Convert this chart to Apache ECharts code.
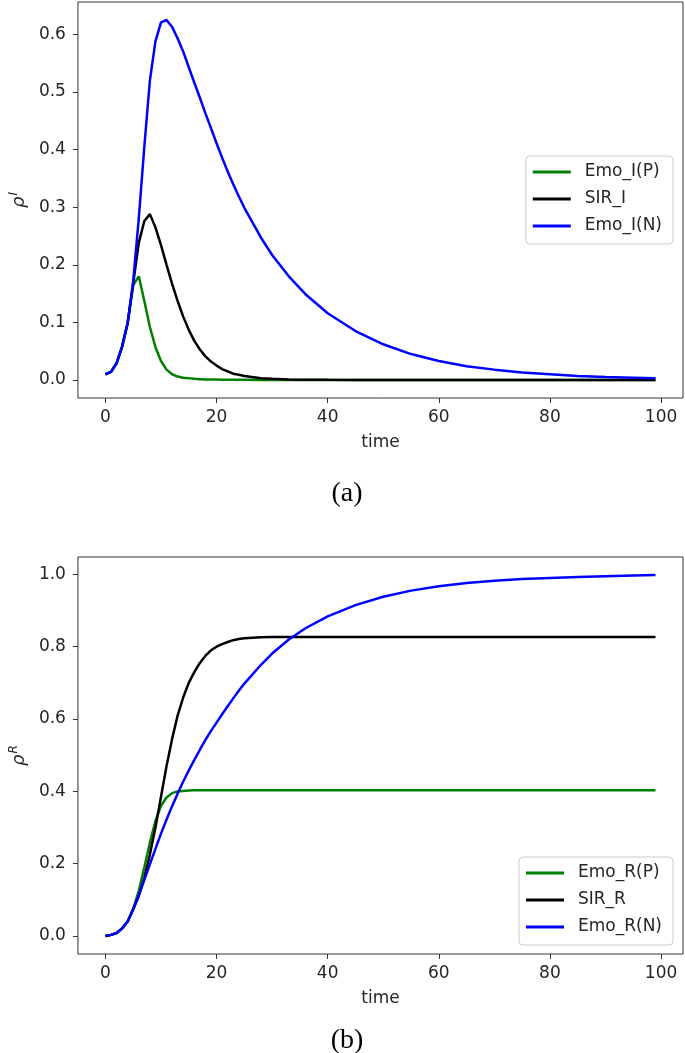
<!DOCTYPE html>
<html>
<head>
<meta charset="utf-8">
<script src="https://cdn.jsdelivr.net/npm/echarts@6.0.0/dist/echarts.min.js"></script>
<style>
html, body { margin: 0; padding: 0; background: #fff; }
#main { width: 685px; height: 1053px; }
</style>
</head>
<body>
<div id="main"></div>
<script>
// time steps (dense where the curves bend)
var times = [0, 1, 2, 3, 4, 5, 6, 7, 8, 9, 10, 11, 12, 13, 14, 15, 16, 17, 18, 19, 20, 21, 22, 23, 24, 25,
    28, 30, 33, 36, 40, 45, 50, 55, 60, 65, 70, 75, 80, 85, 90, 95, 99];

// (a) infected density
var emoIP = [0.010, 0.014, 0.029, 0.058, 0.099, 0.165, 0.180, 0.137, 0.092, 0.057, 0.033, 0.018, 0.010, 0.006, 0.004, 0.003, 0.002, 0.0015, 0.001, 0.001, 0.0008, 0.0006, 0.0005, 0.0004, 0.0003, 0.0003,
    0.0002, 0.0001, 0, 0, 0, 0, 0, 0, 0, 0, 0, 0, 0, 0, 0, 0, 0];
var sirI = [0.010, 0.014, 0.029, 0.058, 0.099, 0.168, 0.238, 0.276, 0.288, 0.265, 0.234, 0.200, 0.167, 0.137, 0.110, 0.087, 0.068, 0.053, 0.041, 0.032, 0.025, 0.019, 0.015, 0.011, 0.009, 0.007,
    0.003, 0.002, 0.001, 0.0006, 0.0003, 0.0001, 0, 0, 0, 0, 0, 0, 0, 0, 0, 0, 0];
var emoIN = [0.010, 0.014, 0.029, 0.058, 0.099, 0.172, 0.280, 0.405, 0.520, 0.588, 0.621, 0.625, 0.613, 0.593, 0.570, 0.543, 0.516, 0.490, 0.463, 0.437, 0.411, 0.386, 0.362, 0.340, 0.319, 0.299,
    0.247, 0.217, 0.180, 0.149, 0.116, 0.085, 0.062, 0.045, 0.033, 0.024, 0.018, 0.013, 0.010, 0.007, 0.005, 0.004, 0.003];

// (b) recovered density
var emoRP = [0, 0.003, 0.008, 0.021, 0.040, 0.075, 0.125, 0.190, 0.258, 0.318, 0.360, 0.383, 0.395, 0.400, 0.401, 0.402, 0.403, 0.403, 0.403, 0.403, 0.403, 0.403, 0.403, 0.403, 0.403, 0.403,
    0.403, 0.403, 0.403, 0.403, 0.403, 0.403, 0.403, 0.403, 0.403, 0.403, 0.403, 0.403, 0.403, 0.403, 0.403, 0.403, 0.403];
var sirR = [0, 0.003, 0.008, 0.021, 0.040, 0.074, 0.110, 0.160, 0.225, 0.300, 0.385, 0.470, 0.545, 0.610, 0.660, 0.700, 0.730, 0.755, 0.775, 0.790, 0.800, 0.807, 0.813, 0.818, 0.821, 0.823,
    0.826, 0.827, 0.827, 0.827, 0.827, 0.827, 0.827, 0.827, 0.827, 0.827, 0.827, 0.827, 0.827, 0.827, 0.827, 0.827, 0.827];
var emoRN = [0, 0.003, 0.008, 0.021, 0.040, 0.074, 0.113, 0.155, 0.198, 0.241, 0.283, 0.322, 0.359, 0.394, 0.427, 0.458, 0.487, 0.515, 0.542, 0.567, 0.590, 0.613, 0.635, 0.657, 0.678, 0.698,
    0.750, 0.781, 0.820, 0.851, 0.884, 0.915, 0.938, 0.955, 0.967, 0.976, 0.982, 0.987, 0.990, 0.993, 0.995, 0.997, 0.998];

var xTicks = [0, 20, 40, 60, 80, 100];
var yTicksA = [0, 0.1, 0.2, 0.3, 0.4, 0.5, 0.6];
var yTicksB = [0, 0.2, 0.4, 0.6, 0.8, 1.0];

var namesA = ['Emo_I(P)', 'SIR_I', 'Emo_I(N)'];
var namesB = ['Emo_R(P)', 'SIR_R', 'Emo_R(N)'];
var colors = ['#008000', '#000000', '#0000ff'];

var font = 'DejaVu Sans';
var textColor = '#262626';

function pairs(xs, ys) {
    var out = [];
    for (var i = 0; i < xs.length; i++) {
        out.push([xs[i], ys[i]]);
    }
    return out;
}

function makeX(idx) {
    return {
        type: 'value',
        gridIndex: idx,
        min: -4.95,
        max: 103.95,
        name: 'time',
        nameLocation: 'middle',
        nameGap: 36,
        nameTextStyle: { fontFamily: font, fontSize: 17, color: textColor },
        axisLine: { show: false, onZero: false },
        axisTick: { show: true, length: 5, customValues: xTicks, lineStyle: { color: '#333' } },
        axisLabel: { customValues: xTicks, margin: 11, fontFamily: font, fontSize: 17, color: textColor },
        splitLine: { show: false }
    };
}

function makeY(idx, min, max, ticks, sup) {
    return {
        type: 'value',
        gridIndex: idx,
        min: min,
        max: max,
        name: '{r|ρ}{s|' + sup + '}',
        nameLocation: 'middle',
        nameGap: 46,
        nameTextStyle: {
            color: textColor,
            rich: {
                r: { fontFamily: font, fontStyle: 'italic', fontSize: 18, color: textColor },
                s: { fontFamily: font, fontStyle: 'italic', fontSize: 12, color: textColor, verticalAlign: 'top', padding: [0, 0, 10, 1] }
            }
        },
        axisLine: { show: false, onZero: false },
        axisTick: { show: true, length: 5, customValues: ticks, lineStyle: { color: '#333' } },
        axisLabel: {
            customValues: ticks,
            margin: 12,
            fontFamily: font,
            fontSize: 17,
            color: textColor,
            formatter: function (v) { return v.toFixed(1); }
        },
        splitLine: { show: false }
    };
}

function makeLegend(names, top) {
    return {
        data: names,
        orient: 'vertical',
        right: 12,
        top: top,
        icon: 'rect',
        itemWidth: 38,
        itemHeight: 3,
        itemGap: 7,
        padding: [6, 11, 8, 7],
        backgroundColor: 'rgba(255,255,255,0.8)',
        borderColor: '#cccccc',
        borderWidth: 1,
        borderRadius: 4,
        textStyle: { fontFamily: font, fontSize: 17, color: textColor, lineHeight: 20, padding: [0, 0, 0, 9] }
    };
}

var series = [];
var dataA = [emoIP, sirI, emoIN];
var dataB = [emoRP, sirR, emoRN];
for (var i = 0; i < 3; i++) {
    series.push({
        name: namesA[i], type: 'line', xAxisIndex: 0, yAxisIndex: 0,
        data: pairs(times, dataA[i]), showSymbol: false, symbol: 'none',
        lineStyle: { width: 2.5, color: colors[i] }, itemStyle: { color: colors[i] }
    });
}
for (var j = 0; j < 3; j++) {
    series.push({
        name: namesB[j], type: 'line', xAxisIndex: 1, yAxisIndex: 1,
        data: pairs(times, dataB[j]), showSymbol: false, symbol: 'none',
        lineStyle: { width: 2.5, color: colors[j] }, itemStyle: { color: colors[j] }
    });
}

var myChart = echarts.init(document.getElementById('main'));

var option = {
    animation: false,
    backgroundColor: '#ffffff',
    title: [
        { text: '(a)', left: 342, top: 475, textAlign: 'center',
          textStyle: { fontFamily: 'Liberation Serif', fontSize: 28, fontWeight: 'normal', color: '#000' } },
        { text: '(b)', left: 342, top: 1022, textAlign: 'center',
          textStyle: { fontFamily: 'Liberation Serif', fontSize: 28, fontWeight: 'normal', color: '#000' } }
    ],
    legend: [makeLegend(namesA, 156), makeLegend(namesB, 857)],
    grid: [
        { left: 73, top: 2, width: 610, height: 396, show: true, borderColor: '#333', borderWidth: 1, containLabel: false },
        { left: 73, top: 557, width: 610, height: 397, show: true, borderColor: '#333', borderWidth: 1, containLabel: false }
    ],
    xAxis: [makeX(0), makeX(1)],
    yAxis: [
        makeY(0, -0.03125, 0.65625, yTicksA, 'I'),
        makeY(1, -0.0499, 1.048, yTicksB, 'R')
    ],
    series: series
};

myChart.setOption(option);
</script>
</body>
</html>
